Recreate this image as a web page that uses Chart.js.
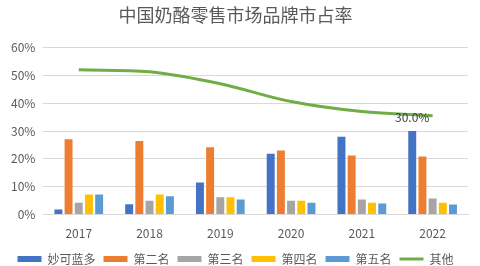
<!DOCTYPE html>
<html>
<head>
<meta charset="utf-8">
<script src="https://cdn.jsdelivr.net/npm/chart.js@4"></script>
<style>
  html, body { margin: 0; padding: 0; background: #fff; }
  #wrap { width: 480px; height: 266px; }
</style>
</head>
<body>
<div id="wrap"><canvas id="myChart"></canvas></div>
<script>
// data (percent)
const years = ['2017', '2018', '2019', '2020', '2021', '2022'];
const miaoke = [1.8, 3.7, 11.5, 21.9, 28.0, 30.0];
const second = [27.1, 26.4, 24.2, 23.0, 21.2, 20.9];
const third = [4.3, 5.0, 6.2, 5.0, 5.4, 5.8];
const fourth = [7.2, 7.2, 6.2, 5.0, 4.3, 4.3];
const fifth = [7.2, 6.6, 5.4, 4.3, 4.0, 3.6];
const others = [52.0, 51.3, 47.0, 40.6, 37.0, 35.5];
const yTicks = [0, 10, 20, 30, 40, 50, 60];

const font = '"Noto Sans CJK SC", "Noto Sans", sans-serif';
Chart.defaults.font.family = font;
Chart.defaults.color = '#595959';

// label over the last 妙可蓝多 bar
const barLabel = {
    id: 'barLabel',
    afterDatasetsDraw(chart) {
        const meta = chart.getDatasetMeta(0);
        const i = miaoke.length - 1;
        const bar = meta.data[i];
        const ctx = chart.ctx;
        ctx.save();
        ctx.font = '12px ' + font;
        ctx.fillStyle = '#404040';
        ctx.textAlign = 'center';
        ctx.textBaseline = 'bottom';
        ctx.fillText(miaoke[i].toFixed(1) + '%', bar.x, bar.y - 8);
        ctx.restore();
    }
};

function barSet(label, data, color) {
    return {
        type: 'bar',
        label: label,
        data: data,
        backgroundColor: color,
        borderWidth: 0,
        barPercentage: 0.78,
        categoryPercentage: 0.72,
        pointStyle: 'rect',
        order: 1
    };
}

const data = {
    labels: years,
    datasets: [
        barSet('妙可蓝多', miaoke, '#4472C4'),
        barSet('第二名', second, '#ED7D31'),
        barSet('第三名', third, '#A5A5A5'),
        barSet('第四名', fourth, '#FFC000'),
        barSet('第五名', fifth, '#5B9BD5'),
        {
            type: 'line',
            label: '其他',
            data: others,
            borderColor: '#70AD47',
            backgroundColor: '#70AD47',
            borderWidth: 3,
            tension: 0.35,
            pointRadius: 0,
            pointStyle: 'line',
            order: 0
        }
    ]
};

const config = {
    type: 'bar',
    data: data,
    options: {
        responsive: true,
        maintainAspectRatio: false,
        animation: false,
        layout: { padding: { left: 3, right: 12, top: 4, bottom: -9 } },
        plugins: {
            title: {
                display: true,
                text: '中国奶酪零售市场品牌市占率',
                font: { size: 18, weight: 'normal' },
                color: '#595959',
                padding: { top: 0, bottom: 22 }
            },
            legend: {
                display: true,
                position: 'bottom',
                labels: {
                    usePointStyle: true,
                    pointStyleWidth: 24,
                    boxHeight: 6,
                    padding: 8,
                    font: { size: 12 },
                    color: '#595959',
                    sort: (a, b) => a.datasetIndex - b.datasetIndex
                }
            },
            tooltip: { enabled: false }
        },
        scales: {
            x: {
                grid: { display: false },
                border: { color: '#d9d9d9' },
                ticks: { font: { size: 12 }, color: '#595959', padding: 4 }
            },
            y: {
                min: yTicks[0],
                max: yTicks[yTicks.length - 1],
                afterBuildTicks: axis => { axis.ticks = yTicks.map(v => ({ value: v })); },
                grid: { color: '#d9d9d9', drawTicks: false },
                border: { display: false },
                ticks: {
                    font: { size: 12 },
                    color: '#595959',
                    padding: 8,
                    callback: v => v + '%'
                }
            }
        }
    },
    plugins: [barLabel]
};

const myChart = new Chart(document.getElementById('myChart'), config);
</script>
</body>
</html>
